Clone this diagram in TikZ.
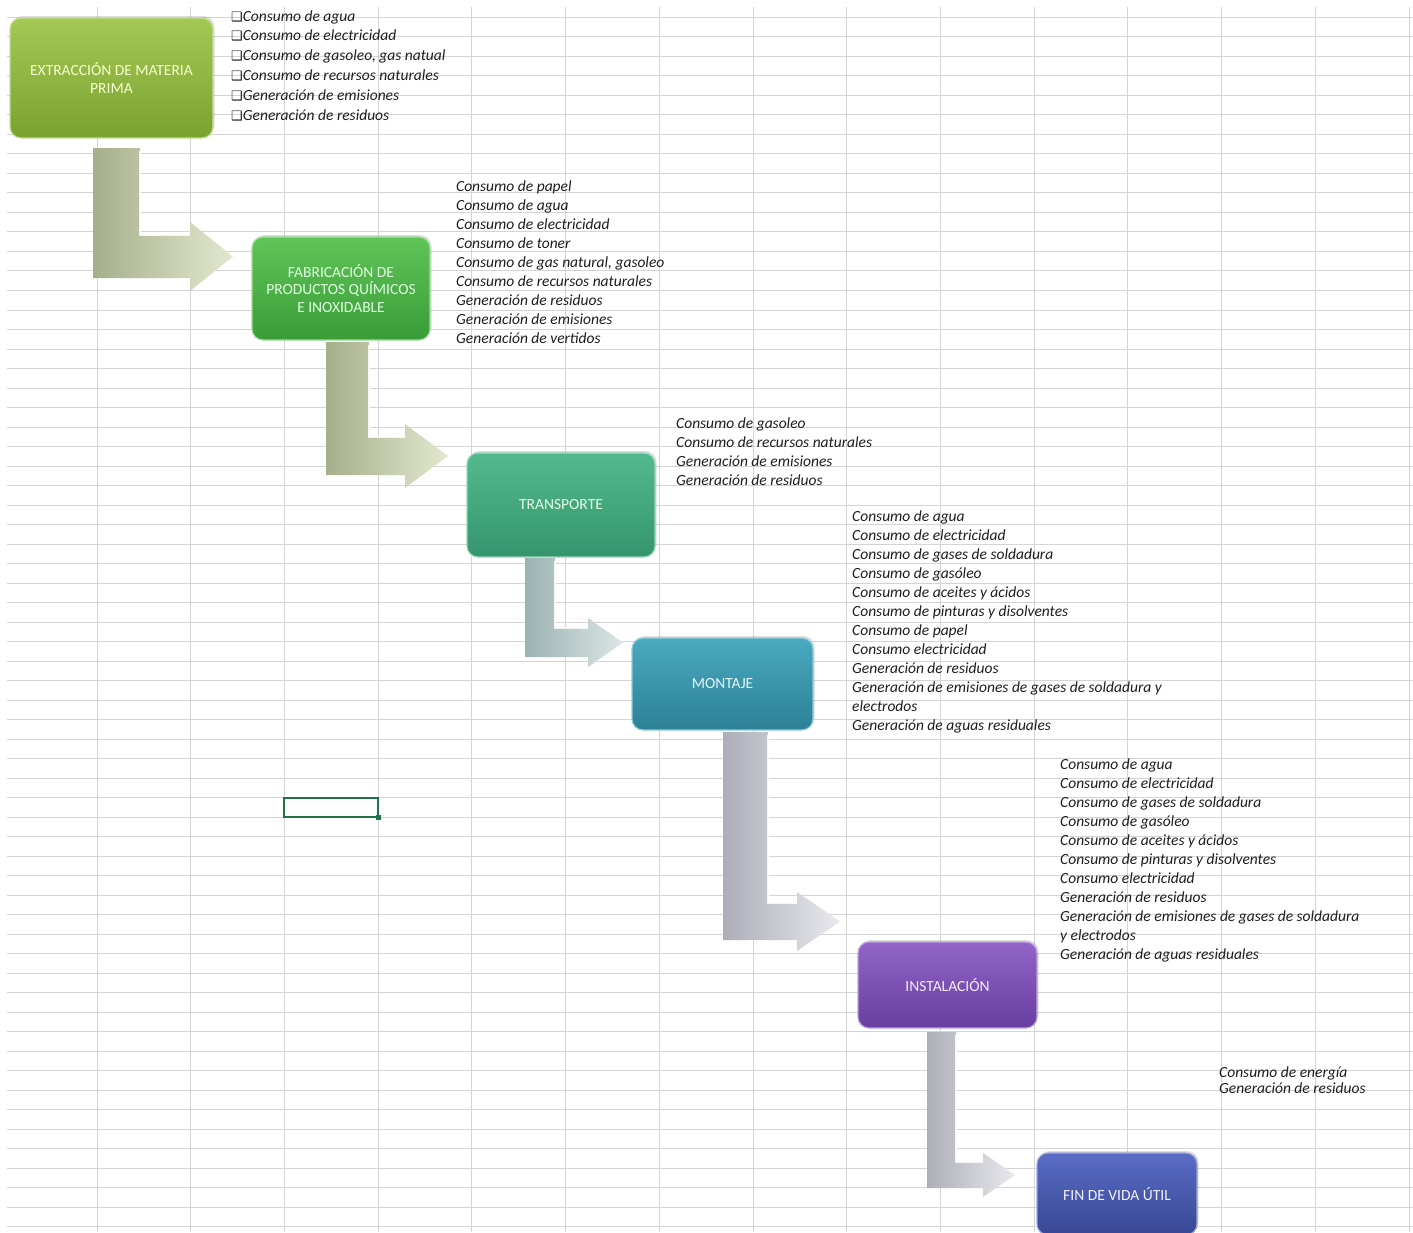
\documentclass[tikz,border=0pt]{standalone}
\usepackage{fontspec}
\setmainfont{Carlito}
\newfontfamily\dingfont{DejaVu Sans}
\usetikzlibrary{shadows}

\definecolor{cellgrid}{RGB}{212,212,212}
\definecolor{selgreen}{RGB}{33,115,70}
\definecolor{listink}{RGB}{30,30,30}
% box colours
\definecolor{extrtop}{RGB}{164,200,84}
\definecolor{extrbot}{RGB}{122,162,48}
\definecolor{fabrtop}{RGB}{96,196,88}
\definecolor{fabrbot}{RGB}{58,156,56}
\definecolor{trantop}{RGB}{84,186,142}
\definecolor{tranbot}{RGB}{52,148,110}
\definecolor{monttop}{RGB}{74,170,192}
\definecolor{montbot}{RGB}{44,128,150}
\definecolor{insttop}{RGB}{146,100,200}
\definecolor{instbot}{RGB}{104,62,160}
\definecolor{fintop}{RGB}{90,108,196}
\definecolor{finbot}{RGB}{56,72,150}
% arrow colours
\definecolor{arrgreenL}{RGB}{166,175,140}
\definecolor{arrgreenR}{RGB}{226,232,206}
\definecolor{arrtealL}{RGB}{156,178,178}
\definecolor{arrtealR}{RGB}{220,230,230}
\definecolor{arrgrayL}{RGB}{174,174,184}
\definecolor{arrgrayR}{RGB}{232,232,238}

% bent arrow: style, left, right, top, bar top, bar bottom, head x, tip x, overhang
\newcommand{\bentarrow}[9]{%
  \shade[#1] (#2,#4) -- (#3,#4) -- (#3,#5) -- (#7,#5) -- (#7,#5-#9)
    -- (#8,{(#5+#6)/2}) -- (#7,#6+#9) -- (#7,#6) -- (#2,#6) -- cycle;
  \draw[white,line width=1.4,opacity=.85] (#3,#4+3) -- (#3,#5) -- (#7,#5);
}

\begin{document}
\begin{tikzpicture}[x=1pt,y=-1pt,
    gridline/.style={cellgrid,line width=0.9},
    stagebox/.style={rounded corners=11,inner sep=0,align=center,
      font=\fontsize{15.5}{17.5}\selectfont,line width=1.2,
      drop shadow={shadow xshift=1.5,shadow yshift=-2,opacity=.25}},
    item/.style={anchor=base west,inner sep=0,text=listink,
      font=\itshape\fontsize{15.5}{17}\selectfont},
    arrgreen/.style={left color=arrgreenL,right color=arrgreenR},
    arrteal/.style={left color=arrtealL,right color=arrtealR},
    arrgray/.style={left color=arrgrayL,right color=arrgrayR}]
\useasboundingbox (0,0) rectangle (1413,1232);
\fill[white] (0,0) rectangle (1413,1232);

% sheet grid
\foreach \i in {0,...,62}
  \draw[gridline] (7,17.3+\i*19.51) -- (1413,17.3+\i*19.51);
\foreach \i in {0,...,14}
  \draw[gridline] (97+\i*93.71,7) -- (97+\i*93.71,1232);

% bent arrows
\bentarrow{arrgreen}{93}{140}{148}{235}{278}{190}{233}{13}
\bentarrow{arrgreen}{326}{369}{342}{437}{475}{405}{448}{13}
\bentarrow{arrteal}{525}{555}{558}{628}{657}{588}{623}{10}
\bentarrow{arrgray}{723}{768}{732}{903}{940}{797}{840}{11}
\bentarrow{arrgray}{927}{956}{1032}{1162}{1188}{983}{1015}{9}

% stages
\node[stagebox,top color=extrtop,bottom color=extrbot,draw=extrtop!60!white,
  minimum width=203,minimum height=120,text=green!15!yellow!20!white]
  (extr) at (111.5,78) {EXTRACCIÓN DE MATERIA\\PRIMA};
\node[stagebox,top color=fabrtop,bottom color=fabrbot,draw=fabrtop!60!white,
  minimum width=178,minimum height=103,text=green!12!white]
  (fabr) at (341,288.5) {FABRICACIÓN DE\\PRODUCTOS QUÍMICOS\\E INOXIDABLE};
\node[stagebox,top color=trantop,bottom color=tranbot,draw=trantop!60!white,
  minimum width=188,minimum height=104,text=green!10!white]
  (tran) at (561,505) {TRANSPORTE};
\node[stagebox,top color=monttop,bottom color=montbot,draw=monttop!60!white,
  minimum width=181,minimum height=92,text=cyan!10!white]
  (mont) at (722.5,684) {MONTAJE};
\node[stagebox,top color=insttop,bottom color=instbot,draw=insttop!60!white,
  minimum width=179,minimum height=86,text=violet!8!white]
  (inst) at (947.5,985) {INSTALACIÓN};
\node[stagebox,top color=fintop,bottom color=finbot,draw=fintop!60!white,
  minimum width=160,minimum height=82,text=blue!6!white]
  (fin) at (1117,1194) {FIN DE VIDA ÚTIL};

% aspects of each stage
\foreach \t [count=\i] in {Consumo de agua,Consumo de electricidad,
    {Consumo de gasoleo, gas natual},Consumo de recursos naturales,
    Generación de emisiones,Generación de residuos}
  \node[item] (extr-\i) at (231,21+\i*19.8-19.8)
    {{\upshape\dingfont\bfseries\fontsize{13}{13}\selectfont ❑}\t};
\foreach \t [count=\i] in {Consumo de papel,Consumo de agua,
    Consumo de electricidad,Consumo de toner,
    {Consumo de gas natural, gasoleo},Consumo de recursos naturales,
    Generación de residuos,Generación de emisiones,Generación de vertidos}
  \node[item] (fabr-\i) at (456,191+\i*19-19) {\t};
\foreach \t [count=\i] in {Consumo de gasoleo,Consumo de recursos naturales,
    Generación de emisiones,Generación de residuos}
  \node[item] (tran-\i) at (676,428+\i*19-19) {\t};
\foreach \t [count=\i] in {Consumo de agua,Consumo de electricidad,
    Consumo de gases de soldadura,Consumo de gasóleo,
    Consumo de aceites y ácidos,Consumo de pinturas y disolventes,
    Consumo de papel,Consumo electricidad,Generación de residuos,
    Generación de emisiones de gases de soldadura y,electrodos,
    Generación de aguas residuales}
  \node[item] (mont-\i) at (852,521+\i*19-19) {\t};
\foreach \t [count=\i] in {Consumo de agua,Consumo de electricidad,
    Consumo de gases de soldadura,Consumo de gasóleo,
    Consumo de aceites y ácidos,Consumo de pinturas y disolventes,
    Consumo electricidad,Generación de residuos,
    Generación de emisiones de gases de soldadura,y electrodos,
    Generación de aguas residuales}
  \node[item] (inst-\i) at (1060,769+\i*19-19) {\t};
\foreach \t [count=\i] in {Consumo de energía,Generación de residuos}
  \node[item] (fin-\i) at (1219,1077+\i*16-16) {\t};

% active cell
\draw[selgreen,line width=2] (284.4,797.7) rectangle (378.1,817.2);
\fill[selgreen] (375.5,814.6) rectangle (381,820.1);
\end{tikzpicture}
\end{document}
